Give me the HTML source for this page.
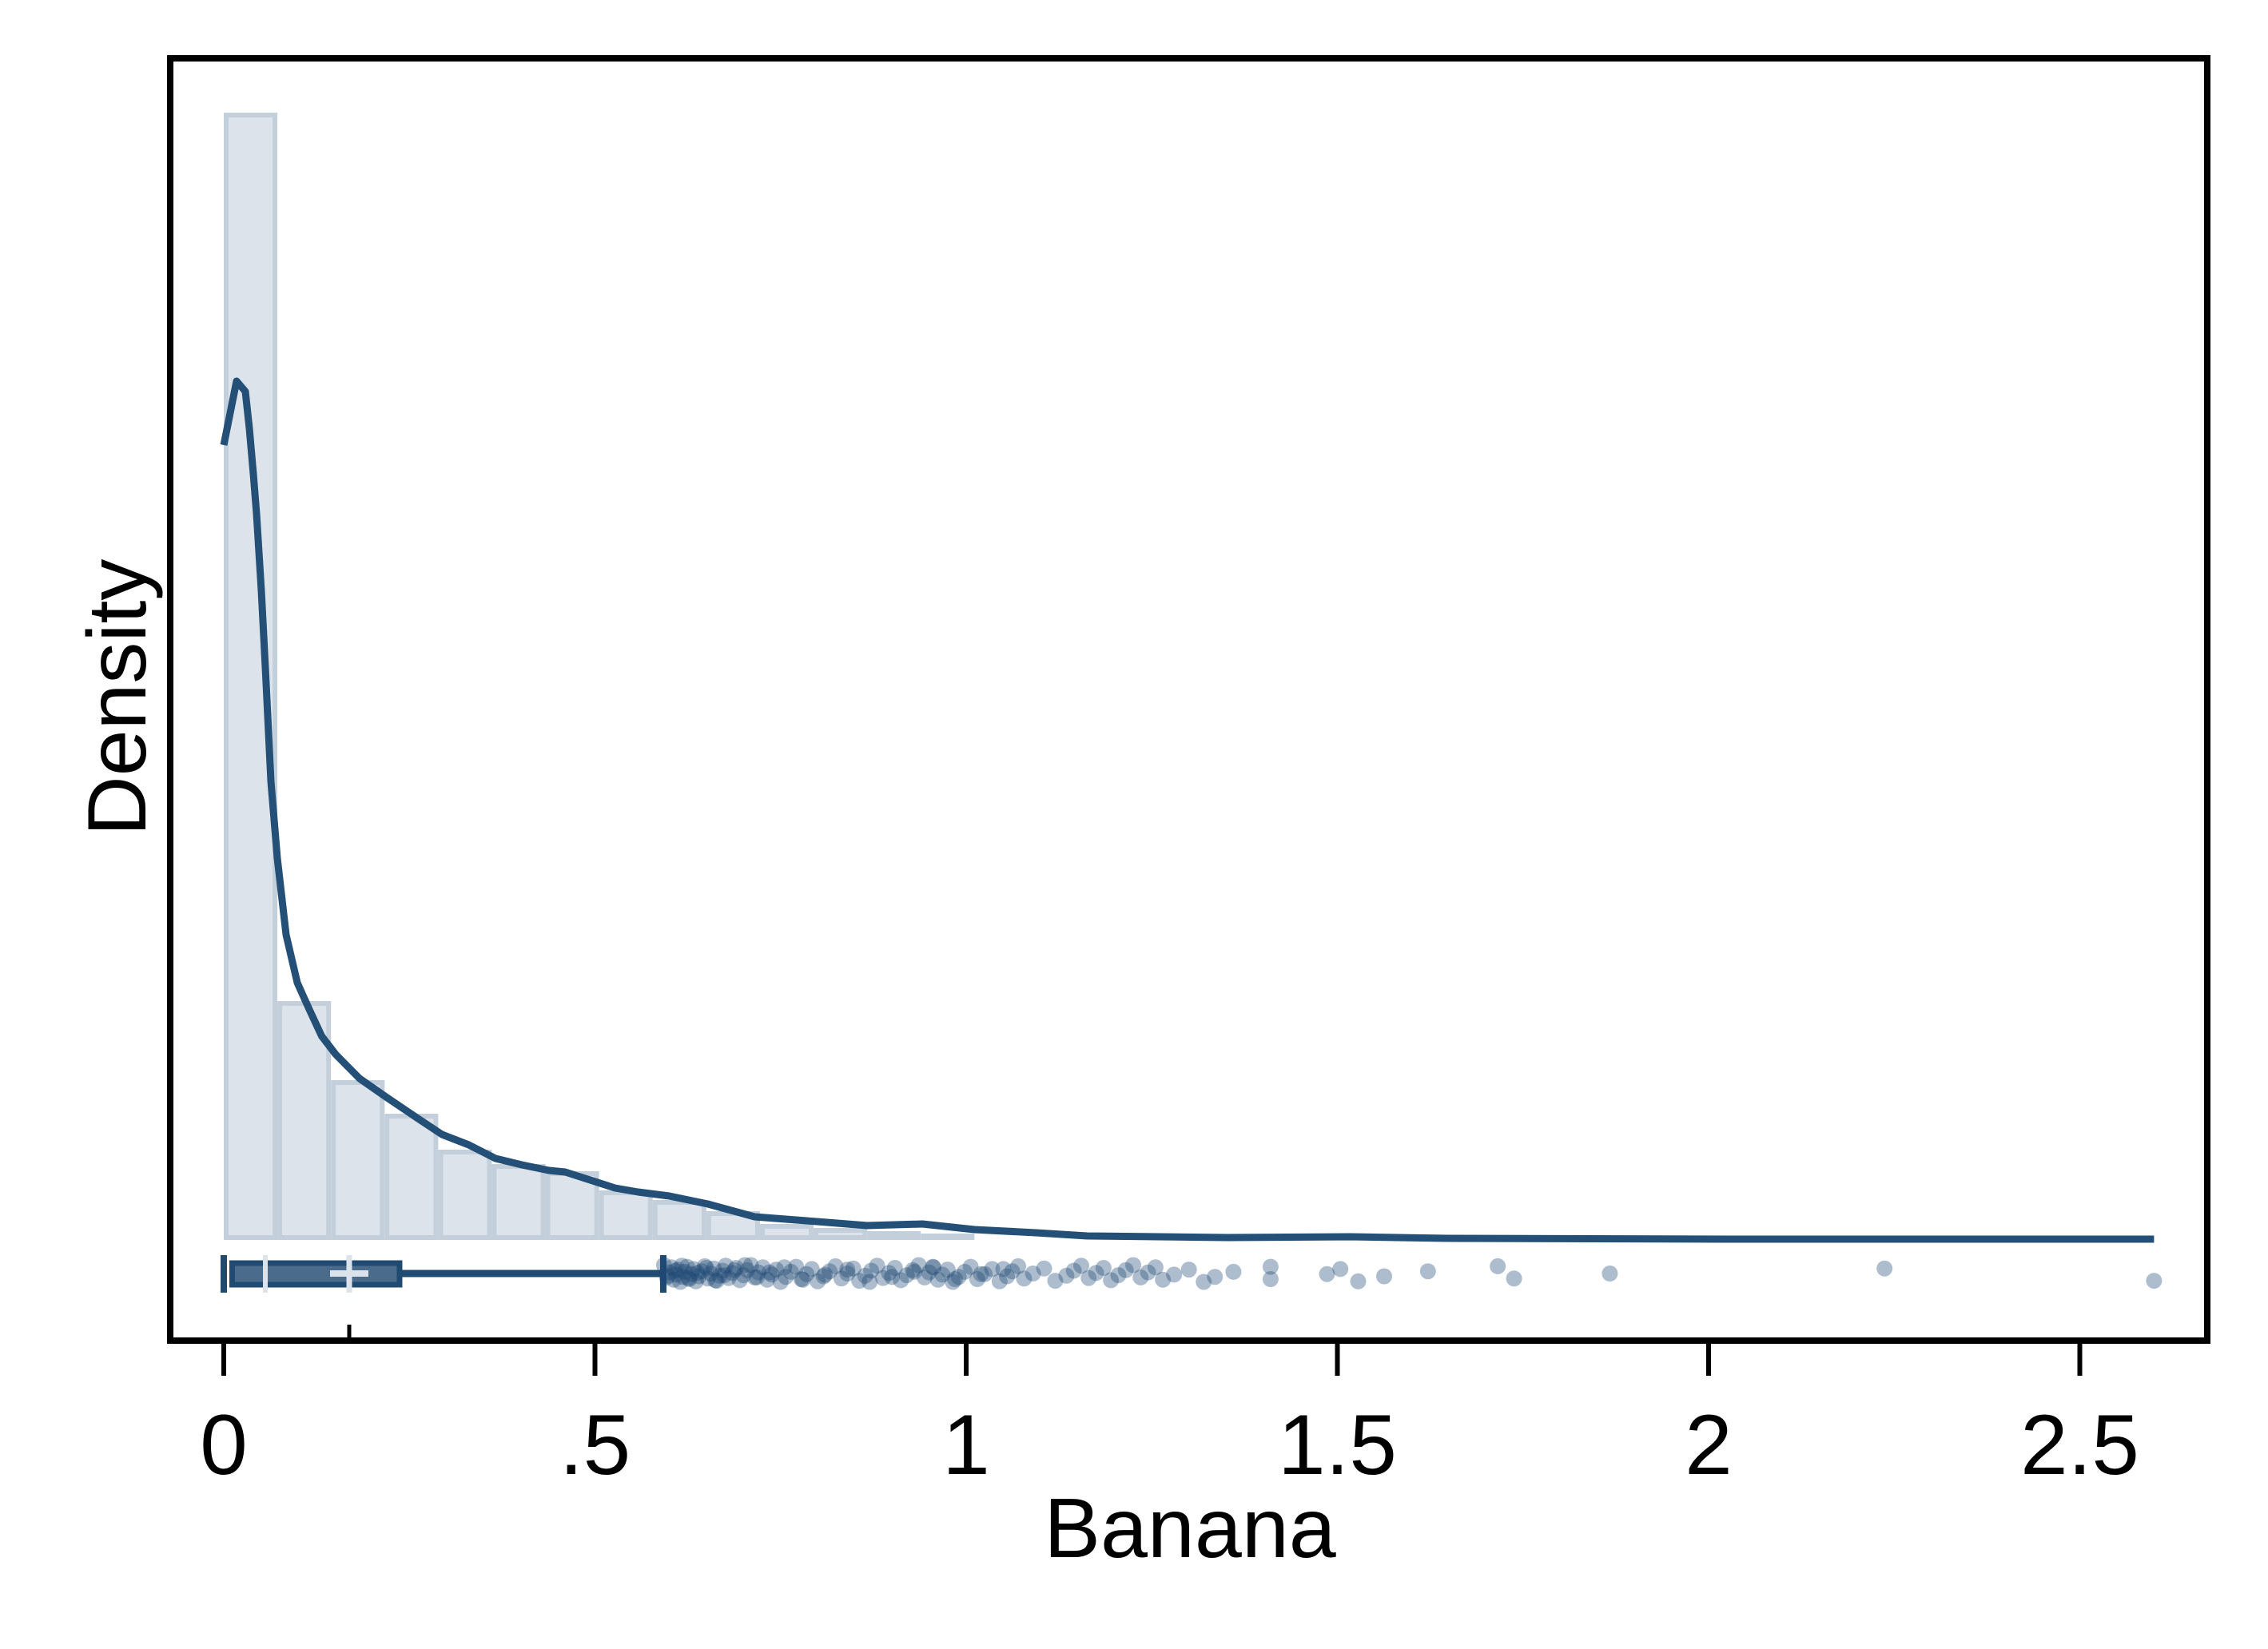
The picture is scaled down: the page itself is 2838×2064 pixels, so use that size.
<!DOCTYPE html>
<html>
<head>
<meta charset="utf-8">
<style>
html,body{margin:0;padding:0;background:#fff;}
svg{display:block;}
text{font-family:"Liberation Sans",Arial,sans-serif;fill:#000;}
</style>
</head>
<body>
<svg id="chart" width="2838" height="2064" viewBox="0 0 2838 2064" xmlns="http://www.w3.org/2000/svg">
  <rect x="0" y="0" width="2838" height="2064" fill="#ffffff"/>
  <g id="bars"></g>
  <g id="curve"></g>
  <g id="box"></g>
  <g id="dots"></g>
  <rect x="213" y="73" width="2549" height="1605" fill="none" stroke="#000" stroke-width="8"/>
  <g id="axis"></g>
  <text x="1489" y="1949" font-size="106" text-anchor="middle">Banana</text>
  <text x="0" y="0" font-size="104" text-anchor="middle" transform="translate(182,873) rotate(-90)">Density</text>
</svg>
<script>
// ---- data ----
var binWidth = 2.6 / 36;
var binDensities = [7.055,1.495,1.0,0.79,0.565,0.475,0.43,0.31,0.25,0.18,0.10,0.075,0.055,0.04,0.03,0.025,0.02,0.015,0.015,0.01,0.01,0.005,0.005,0,0.005,0,0,0.005,0,0,0,0.005,0,0,0,0.005];
var curveX = [0,0.0172,0.0291,0.0344,0.0398,0.0441,0.0506,0.056,0.0635,0.0721,0.084,0.099,0.115,0.132,0.151,0.183,0.2185,0.2616,0.294,0.330,0.366,0.4015,0.438,0.46,0.527,0.558,0.600,0.652,0.715,0.785,0.8665,0.941,1.011,1.094,1.163,1.353,1.518,1.649,2.04,2.6];
var curveY = [4.975,5.375,5.31,5.08,4.795,4.545,4.065,3.585,2.87,2.39,1.91,1.61,1.445,1.275,1.16,1.01,0.895,0.76,0.66,0.595,0.51,0.47,0.435,0.425,0.325,0.30,0.275,0.225,0.145,0.12,0.09,0.10,0.065,0.045,0.025,0.015,0.02,0.01,0.005,0.005];
var boxStats = {min:0, q1:0.008, median:0.056, mean:0.169, q3:0.240, upper:0.592};
var outliers = [0.593,0.597,0.600,0.603,0.606,0.609,0.612,0.615,0.618,0.621,0.624,0.627,0.630,0.633,0.636,0.640,0.644,0.648,0.652,0.656,0.660,0.664,0.668,0.672,0.676,0.680,0.685,0.690,0.695,0.700,0.705,0.710,0.715,0.720,0.726,0.732,0.738,0.744,0.750,0.757,0.764,0.771,0.778,0.785,0.792,0.800,0.808,0.816,0.824,0.832,0.840,0.848,0.856,0.864,0.872,0.880,0.888,0.896,0.904,0.912,0.920,0.928,0.936,0.944,0.950,0.956,0.962,0.968,0.975,0.982,0.990,0.998,1.006,1.015,1.025,1.035,1.045,1.055,1.062,1.070,1.078,1.09,1.105,1.12,1.135,1.145,1.155,1.165,1.175,1.185,1.195,1.205,1.215,1.225,1.235,1.245,1.255,1.265,1.28,1.30,1.32,1.335,1.36,1.41,1.41,1.486,1.504,1.528,1.563,1.622,1.716,1.738,1.867,2.237,2.6,
  0.598,0.608,0.617,0.626,0.638,0.65,0.662,0.674,0.688,0.702,0.718,0.735,0.755,0.78,0.81,0.84,0.87,0.9,0.93,0.955,0.985,1.02,1.05];
var tickValues = [0,0.5,1,1.5,2,2.5];
var tickLabels = ["0",".5","1","1.5","2","2.5"];

// ---- scales ----
var NS = "http://www.w3.org/2000/svg";
function sx(v){ return 280 + v * 929; }
function sy(d){ return 1552 - d * 200; }
function mk(tag, attrs, parent){
  var e = document.createElementNS(NS, tag);
  for (var k in attrs) e.setAttribute(k, attrs[k]);
  parent.appendChild(e);
  return e;
}

// bars
var gb = document.getElementById("bars");
binDensities.forEach(function(d, i){
  if (d <= 0) return;
  var x0 = sx(i * binWidth), x1 = sx((i + 1) * binWidth);
  var y0 = sy(d), y1 = sy(0);
  var r = mk("rect", {x: x0 + 3, y: y0 + 3, width: Math.max(0, x1 - x0 - 6), height: Math.max(0, y1 - y0 - 6), fill: "#dce3ea", stroke: "#c3cfda", "stroke-width": 6}, gb);
  
  
});

// curve
var gc = document.getElementById("curve");
var pts = curveX.map(function(x, i){ return sx(x).toFixed(1) + "," + sy(curveY[i]).toFixed(1); }).join(" ");
var pl = mk("polyline", {points: pts, fill: "none", stroke: "#244f76", "stroke-width": 9, "stroke-linejoin": "round"}, gc);



// box plot
var gx = document.getElementById("box");
var cy = 1594;
var w1 = mk("line", {x1: sx(boxStats.q3), x2: sx(boxStats.upper), y1: cy, y2: cy, stroke: "#1f4a72", "stroke-width": 9}, gx);


var bx = mk("rect", {x: sx(boxStats.q1) + 3, y: 1581, width: sx(boxStats.q3) - sx(boxStats.q1) - 6, height: 27, fill: "#4a6b8c", stroke: "#1f4a72", "stroke-width": 7}, gx);


var c1 = mk("line", {x1: sx(boxStats.min), x2: sx(boxStats.min), y1: 1571, y2: 1618, stroke: "#1f4a72", "stroke-width": 8}, gx);


var c2 = mk("line", {x1: sx(boxStats.upper), x2: sx(boxStats.upper), y1: 1571, y2: 1618, stroke: "#1f4a72", "stroke-width": 8}, gx);


var md = mk("line", {x1: sx(boxStats.median), x2: sx(boxStats.median), y1: 1571, y2: 1618, stroke: "#dde3ea", "stroke-width": 6}, gx);


var mv = mk("line", {x1: sx(boxStats.mean), x2: sx(boxStats.mean), y1: 1571, y2: 1618, stroke: "#dde3ea", "stroke-width": 7}, gx);


var mh = mk("line", {x1: sx(boxStats.mean) - 24, x2: sx(boxStats.mean) + 24, y1: cy, y2: cy, stroke: "#dde3ea", "stroke-width": 8}, gx);



// outlier dots
var gd = document.getElementById("dots");
outliers.forEach(function(v, i){
  var j = ((i * 53) % 31) - 15;
  var c = mk("circle", {cx: sx(v), cy: cy + j * 0.7, r: 10, fill: "rgba(31,73,117,0.36)"}, gd);
  
  
});

// axis ticks and labels
var ga = document.getElementById("axis");
tickValues.forEach(function(v, i){
  var t = mk("line", {x1: sx(v), x2: sx(v), y1: 1682, y2: 1722, stroke: "#000", "stroke-width": 6}, ga);
  
  
  var tx = mk("text", {x: sx(v), y: 1845, "font-size": 107, "text-anchor": "middle"}, ga);
  tx.textContent = tickLabels[i];
  
  
});
var mt = mk("line", {x1: sx(boxStats.mean), x2: sx(boxStats.mean), y1: 1658, y2: 1676, stroke: "#000", "stroke-width": 5}, ga);


</script>
</body>
</html>
